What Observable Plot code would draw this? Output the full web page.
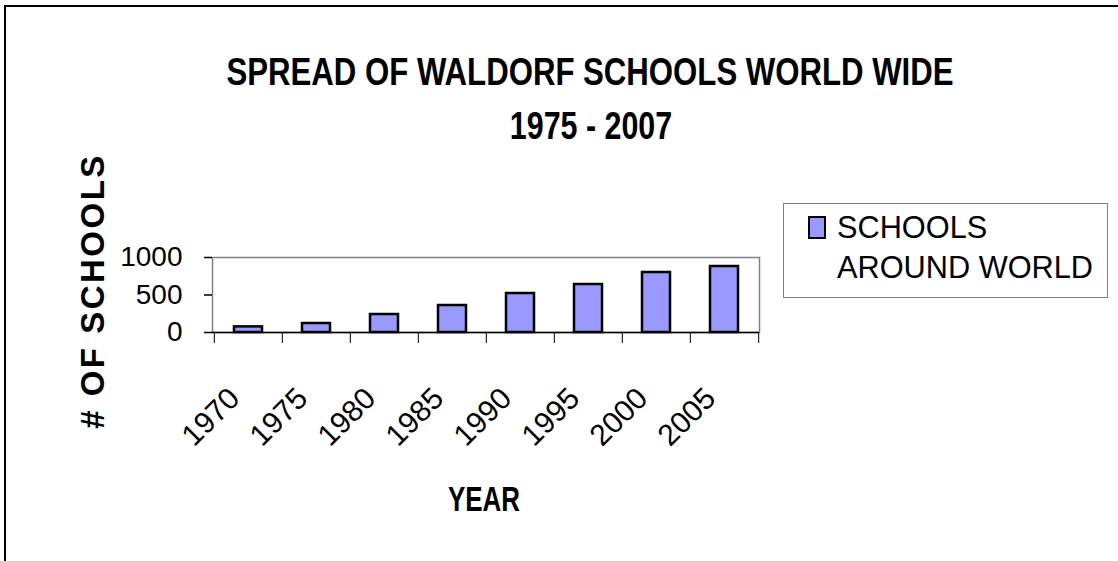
<!DOCTYPE html>
<html>
<head>
<meta charset="utf-8">
<script src="https://cdn.jsdelivr.net/npm/d3@7"></script>
<script src="https://cdn.jsdelivr.net/npm/@observablehq/plot@0.6"></script>
<style>
  html, body { margin: 0; padding: 0; background: #fff; }
  #wrap { position: relative; width: 1118px; height: 561px; overflow: hidden; font-family: "Liberation Sans", Arial, sans-serif; color: #000; }
  #wrap svg { position: absolute; left: 0; top: 0; }
  .t { position: absolute; white-space: nowrap; line-height: 1; }
</style>
</head>
<body>
<div id="wrap"></div>
<script>
// ---- data ----
const titleLine1 = "SPREAD OF WALDORF SCHOOLS WORLD WIDE";
const titleLine2 = "1975 - 2007";
const xLabel = "YEAR";
const yLabel = "# OF SCHOOLS";
const seriesName = ["SCHOOLS", "AROUND WORLD"];
const years = ["1970", "1975", "1980", "1985", "1990", "1995", "2000", "2005"];
const schools = [75, 120, 240, 360, 520, 640, 800, 880];
const yTicks = [0, 500, 1000];

const data = years.map((y, i) => ({year: y, schools: schools[i]}));

const W = 1118, H = 561;
const mL = 212, mR = 359, mT = 257, mB = 229;
const halfStep = (W - mL - mR) / years.length / 2;
const barFill = "#9999ff";

const chart = Plot.plot({
  width: W,
  height: H,
  marginLeft: mL,
  marginRight: mR,
  marginTop: mT,
  marginBottom: mB,
  style: {fontFamily: "'Liberation Sans', Arial, sans-serif", color: "#000", background: "transparent", overflow: "visible"},
  x: {type: "band", domain: years, paddingInner: 0.59, paddingOuter: 0.295, label: null},
  y: {domain: [0, 1000], label: null},
  marks: [
    Plot.frame({stroke: "#808080", strokeWidth: 1.5}),
    Plot.barY(data, {x: "year", y: "schools", fill: barFill, stroke: "#000", strokeWidth: 2.5}),
    Plot.ruleY([0], {stroke: "#000", strokeWidth: 1.5}),
    Plot.axisY({ticks: yTicks, tickFormat: d => String(d), tickSize: 8, tickPadding: 22, fontSize: 28, line: true, label: null, strokeWidth: 1.5}),
    Plot.ruleX(years, {x: d => d, y1: 0, y2: 0, insetBottom: -11, dx: -halfStep, stroke: "#000", strokeWidth: 1}),
    Plot.ruleX(years.slice(-1), {x: d => d, y1: 0, y2: 0, insetBottom: -11, dx: halfStep, stroke: "#000", strokeWidth: 1}),
    Plot.axisX({tickSize: 0, tickRotate: -45, tickPadding: 61, dx: -14, fontSize: 30, label: null})
  ]
});
const wrap = document.getElementById("wrap");
wrap.appendChild(chart);

// outer chart-area border (top + left)
const border = document.createElement("div");
border.style.cssText = "position:absolute;left:4px;top:5px;width:1200px;height:700px;border-left:2px solid #000;border-top:2px solid #000;";
wrap.appendChild(border);

function text(str, x, y, opts) {
  const d = document.createElement("div");
  d.className = "t";
  d.textContent = str;
  d.style.left = x + "px";
  d.style.top = y + "px";
  d.style.fontSize = opts.size + "px";
  d.style.fontWeight = opts.bold ? "bold" : "normal";
  if (opts.ls) d.style.letterSpacing = opts.ls + "px";
  const tx = opts.anchor === "start" ? "0" : "-50%";
  d.style.transformOrigin = opts.anchor === "start" ? "0 50%" : "50% 50%";
  d.style.transform = `translate(${tx},-50%) rotate(${opts.rotate || 0}deg) scaleX(${opts.sx || 1})`;
  wrap.appendChild(d);
  return d;
}

text(titleLine1, 590, 72, {size: 38, bold: true, sx: 0.82});
text(titleLine2, 591, 126, {size: 38, bold: true, sx: 0.8});
text(xLabel, 484, 498, {size: 35, bold: true, sx: 0.74});
text(yLabel, 92, 291, {size: 33, bold: true, rotate: -90, ls: 2.5});

// legend
const lg = document.createElement("div");
lg.style.cssText = "position:absolute;left:783px;top:203px;width:323px;height:93px;border:1.5px solid #808080;background:#fff;";
wrap.appendChild(lg);
const sw = document.createElement("div");
sw.style.cssText = `position:absolute;left:808px;top:216px;width:14px;height:19px;background:${barFill};border:2px solid #000;`;
wrap.appendChild(sw);
const legText1 = text(seriesName[0], 837, 227, {size: 32, anchor: "start", sx: 0.96});
const legText2 = text(seriesName[1], 837, 267, {size: 32, anchor: "start", sx: 0.96});
</script>
</body>
</html>
